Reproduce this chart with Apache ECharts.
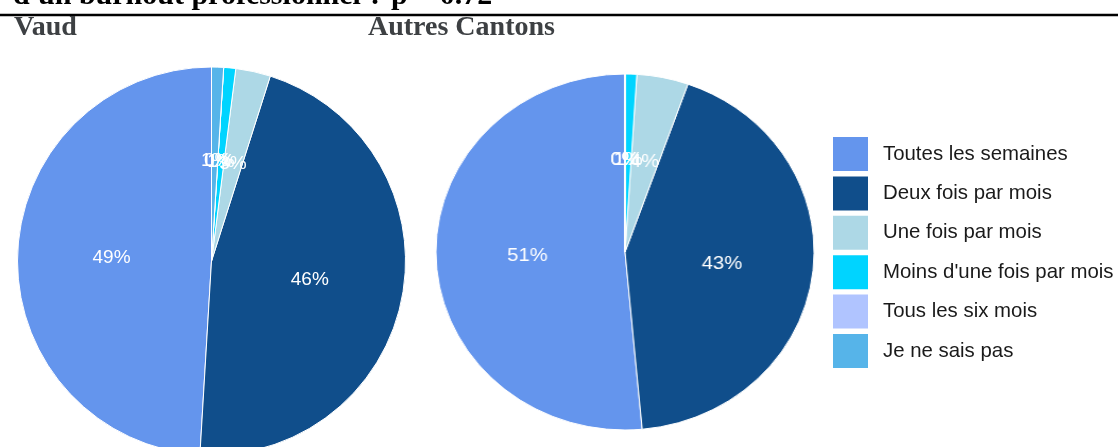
<!DOCTYPE html>
<html>
<head>
<meta charset="utf-8">
<script src="https://cdn.jsdelivr.net/npm/echarts@6/dist/echarts.min.js"></script>
<style>
html,body{margin:0;padding:0;background:#fff;overflow:hidden;}
#wrap{position:relative;width:1118px;height:447px;}
#chart,#chart2{position:absolute;left:0;top:0;width:1118px;height:447px;}
#chart2{transform-origin:625px 252px;transform:scale(1.062,1);}
</style>
</head>
<body>
<div id="wrap"><div id="chart"></div><div id="chart2"></div></div>
<script>
const categories = ['Toutes les semaines', 'Deux fois par mois', 'Une fois par mois', "Moins d'une fois par mois", 'Tous les six mois', 'Je ne sais pas'];
const vaudValues = [49.05, 46.05, 2.9, 1.0, 0, 1.0];
const autresValues = [51.45, 43.15, 4.4, 1.0, 0, 0];
const panelTitles = ['Vaud', 'Autres Cantons'];
const headerText = "d'un burnout professionnel ? p = 0.72";
const palette = ['#6495ED', '#104E8B', '#ADD8E6', '#00D4FF', '#B0C4FF', '#56B4E9'];

function pieSeries(name, values, center, radius) {
  return {
    type: 'pie',
    name: name,
    center: center,
    radius: radius,
    startAngle: 90,
    clockwise: false,
    avoidLabelOverlap: false,
    animation: false,
    silent: true,
    itemStyle: {borderColor: '#ffffff', borderWidth: 1},
    label: {
      show: true,
      position: 'inside',
      color: '#ffffff',
      fontFamily: 'Liberation Sans, Arial, sans-serif',
      fontSize: 19,
      formatter: p => Math.round(p.percent) + '%'
    },
    labelLayout: {hideOverlap: false},
    labelLine: {show: false},
    emphasis: {disabled: true},
    data: categories.map((c, i) => ({name: c, value: values[i]}))
  };
}

const chart = echarts.init(document.getElementById('chart'), null, {renderer: 'canvas'});
chart.setOption({
  animation: false,
  color: palette,
  graphic: [
    {type: 'text', left: 13, top: -19, style: {text: headerText, font: 'bold 30px "Liberation Serif", "Times New Roman", serif', fill: '#000'}},
    {type: 'line', shape: {x1: 0, y1: 15, x2: 1118, y2: 15}, style: {stroke: '#000', lineWidth: 2.5}},
    {type: 'text', left: 14, top: 14, style: {text: panelTitles[0], font: 'bold 28px "Liberation Serif", "Times New Roman", serif', fill: '#3d4043'}},
    {type: 'text', left: 368, top: 14, style: {text: panelTitles[1], font: 'bold 28px "Liberation Serif", "Times New Roman", serif', fill: '#3d4043'}}
  ],
  legend: {
    orient: 'vertical',
    left: 833,
    top: 137,
    padding: 0,
    icon: 'rect',
    itemWidth: 35,
    itemHeight: 34,
    itemGap: 5.4,
    selectedMode: false,
    data: categories,
    itemStyle: {borderWidth: 0},
    textStyle: {
      fontFamily: 'Liberation Sans, Arial, sans-serif',
      fontSize: 20.4,
      color: '#1a1a1a',
      padding: [0, 0, 0, 10]
    }
  },
  series: [
    pieSeries(panelTitles[0], vaudValues, [211.5, 261], 194)
  ]
});

const chart2 = echarts.init(document.getElementById('chart2'), null, {renderer: 'canvas'});
chart2.setOption({
  animation: false,
  color: palette,
  series: [
    pieSeries(panelTitles[1], autresValues, [625, 252], 178)
  ]
});
</script>
</body>
</html>
